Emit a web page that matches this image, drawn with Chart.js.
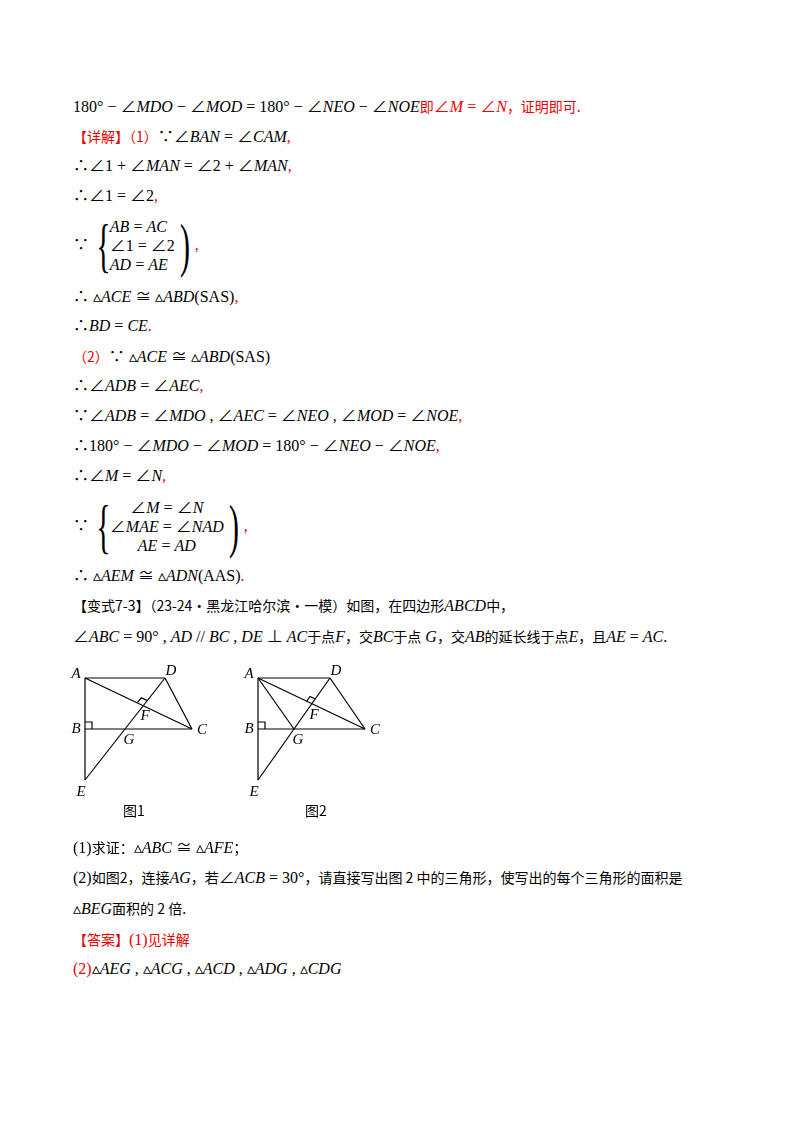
<!DOCTYPE html>
<html><head><meta charset="utf-8">
<script src="https://cdn.jsdelivr.net/npm/chart.js@4/dist/chart.umd.min.js"></script>
<style>
body{margin:0;width:800px;height:1132px;background:#fff;position:relative;font-family:"Liberation Serif","Noto Sans CJK SC",serif;color:#000}
.l{position:absolute;left:73px;font-size:16px;white-space:nowrap;line-height:20px}
i{font-style:italic}
.r{color:#e00}
.cn{font-family:"Noto Sans CJK SC";font-size:14px}
.br{display:inline-flex;align-items:center}
.big{font-size:60px;font-weight:100;transform:scaleX(0.5);line-height:60px;display:inline-block}
.col{display:inline-flex;flex-direction:column;line-height:19px}
.fig{position:absolute}
.cap{position:absolute;font-family:"Noto Sans CJK SC";font-size:14px}
</style></head><body>
<div class="l" style="top:96px">180° − ∠<i>MDO</i> − ∠<i>MOD</i> = 180° − ∠<i>NEO</i> − ∠<i>NOE</i><span class="r cn">即</span><span class="r">∠<i>M</i> = ∠<i>N</i></span><span class="r cn">，证明即可.</span></div>
<div class="l" style="top:126px"><span class="r cn">【详解】（1）</span>∵∠<i>BAN</i> = ∠<i>CAM</i><span class="r">,</span></div>
<div class="l" style="top:156px">∴∠1 + ∠<i>MAN</i> = ∠2 + ∠<i>MAN</i><span class="r">,</span></div>
<div class="l" style="top:186px">∴∠1 = ∠2<span class="r">,</span></div>
<div class="l br" style="top:215px">∵<span class="big">{</span><span class="col" style="margin-left:-8px"><span><i>AB</i> = <i>AC</i></span><span>∠1 = ∠2</span><span><i>AD</i> = <i>AE</i></span></span><span class="big">)</span><span class="r">,</span></div>
<div class="l" style="top:287px">∴ ▵<i>ACE</i> ≅ ▵<i>ABD</i>(SAS)<span class="r">,</span></div>
<div class="l" style="top:316px">∴<i>BD</i> = <i>CE</i><span class="r">.</span></div>
<div class="l" style="top:346px"><span class="r cn">（2）</span>∵ ▵<i>ACE</i> ≅ ▵<i>ABD</i>(SAS)</div>
<div class="l" style="top:376px">∴∠<i>ADB</i> = ∠<i>AEC</i><span class="r">,</span></div>
<div class="l" style="top:406px">∵∠<i>ADB</i> = ∠<i>MDO</i> , ∠<i>AEC</i> = ∠<i>NEO</i> , ∠<i>MOD</i> = ∠<i>NOE</i><span class="r">,</span></div>
<div class="l" style="top:436px">∴180° − ∠<i>MDO</i> − ∠<i>MOD</i> = 180° − ∠<i>NEO</i> − ∠<i>NOE</i><span class="r">,</span></div>
<div class="l" style="top:466px">∴∠<i>M</i> = ∠<i>N</i><span class="r">,</span></div>
<div class="l br" style="top:496px">∵<span class="big">{</span><span class="col" style="margin-left:-8px;text-align:center"><span>∠<i>M</i> = ∠<i>N</i></span><span>∠<i>MAE</i> = ∠<i>NAD</i></span><span><i>AE</i> = <i>AD</i></span></span><span class="big">)</span><span class="r">,</span></div>
<div class="l" style="top:566px">∴ ▵<i>AEM</i> ≅ ▵<i>ADN</i>(AAS)<span class="r">.</span></div>
<div class="l" style="top:595px"><span class="cn">【变式7-3】（23-24·黑龙江哈尔滨·一模）如图，在四边形</span><i>ABCD</i><span class="cn">中，</span></div>
<div class="l" style="top:626px">∠<i>ABC</i> = 90° , <i>AD</i> // <i>BC</i> , <i>DE</i> ⊥ <i>AC</i><span class="cn">于点</span><i>F</i><span class="cn">，交</span><i>BC</i><span class="cn">于点</span> <i>G</i><span class="cn">，交</span><i>AB</i><span class="cn">的延长线于点</span><i>E</i><span class="cn">，且</span><i>AE</i> = <i>AC</i>.</div>
<canvas id="fig1" class="fig" style="left:60px;top:664px;width:160px;height:140px"></canvas>
<canvas id="fig2" class="fig" style="left:233px;top:664px;width:160px;height:140px"></canvas>
<div class="cap" style="left:123px;top:800px">图1</div>
<div class="cap" style="left:305px;top:800px">图2</div>
<div class="l" style="top:837px">(1)<span class="cn">求证：</span>▵<i>ABC</i> ≅ ▵<i>AFE</i><span class="cn">；</span></div>
<div class="l" style="top:867px">(2)<span class="cn">如图2，连接</span><i>AG</i><span class="cn">，若</span>∠<i>ACB</i> = 30°<span class="cn">，请直接写出图 2 中的三角形，使写出的每个三角形的面积是</span></div>
<div class="l" style="top:898px">▵<i>BEG</i><span class="cn">面积的 2 倍.</span></div>
<div class="l" style="top:929px"><span class="r cn">【答案】</span><span class="r">(1)</span><span class="r cn">见详解</span></div>
<div class="l" style="top:959px"><span class="r">(2)</span>▵<i>AEG</i> , ▵<i>ACG</i> , ▵<i>ACD</i> , ▵<i>ADG</i> , ▵<i>CDG</i></div>
<script>
// point labels and coordinates (figure units)
const pointNames = ['A', 'B', 'C', 'D', 'E', 'F', 'G'];
const fig1X = [0, 0, 107, 80, 0, 58, 40];
const fig1Y = [51, 0, 0, 51, -51, 24, 0];
const fig2X = [0, 0, 107, 72, 0, 54, 36];
const fig2Y = [51, 0, 0, 51, -51, 25, 0];
const segments1 = ['AD', 'DC', 'AE', 'BC', 'AC', 'ED'];
const segments2 = ['AD', 'DC', 'AE', 'BC', 'AC', 'ED', 'AG'];
const labelOffsets = {A: [-9, -4], B: [-9, 0], C: [10, 1], D: [6, -7], E: [-4, 12], F: [2, 11], G: [4, 11]};

function drawFigure(id, xs, ys, segs) {
    const pt = n => ({x: xs[pointNames.indexOf(n)], y: ys[pointNames.indexOf(n)]});
    const datasets = segs.map(s => ({data: [pt(s[0]), pt(s[1])]}));
    // right angle at B
    datasets.push({data: [{x: 0, y: 7}, {x: 7, y: 7}, {x: 7, y: 0}]});
    // right angle at F
    const F = pt('F'), A = pt('A'), D = pt('D');
    const u = (P) => { const dx = P.x - F.x, dy = P.y - F.y, L = Math.hypot(dx, dy); return [dx / L * 6, dy / L * 6]; };
    const ua = u(A), ud = u(D);
    datasets.push({data: [{x: F.x + ua[0], y: F.y + ua[1]}, {x: F.x + ua[0] + ud[0], y: F.y + ua[1] + ud[1]}, {x: F.x + ud[0], y: F.y + ud[1]}]});
    datasets.forEach(d => Object.assign(d, {showLine: true, borderColor: '#000', borderWidth: 1.2, pointRadius: 0, fill: false}));

    new Chart(document.getElementById(id), {
        type: 'scatter',
        data: {datasets},
        options: {
            responsive: false, animation: false, events: [],
            layout: {padding: 0},
            plugins: {legend: {display: false}, tooltip: {enabled: false}},
            scales: {
                x: {type: 'linear', min: -25, max: 135, display: false},
                y: {type: 'linear', min: -75, max: 65, display: false}
            }
        },
        plugins: [{
            id: 'labels',
            afterDraw(chart) {
                const c = chart.ctx;
                c.save();
                c.font = 'italic 15px "Liberation Serif"';
                c.fillStyle = '#000';
                c.textAlign = 'center';
                c.textBaseline = 'middle';
                pointNames.forEach((n, i) => {
                    const off = labelOffsets[n];
                    c.fillText(n, chart.scales.x.getPixelForValue(xs[i]) + off[0], chart.scales.y.getPixelForValue(ys[i]) + off[1]);
                });
                c.restore();
            }
        }]
    });
}
['fig1', 'fig2'].forEach(id => { const el = document.getElementById(id); el.width = 160; el.height = 140; });
drawFigure('fig1', fig1X, fig1Y, segments1);
drawFigure('fig2', fig2X, fig2Y, segments2);
</script>
</body></html>
